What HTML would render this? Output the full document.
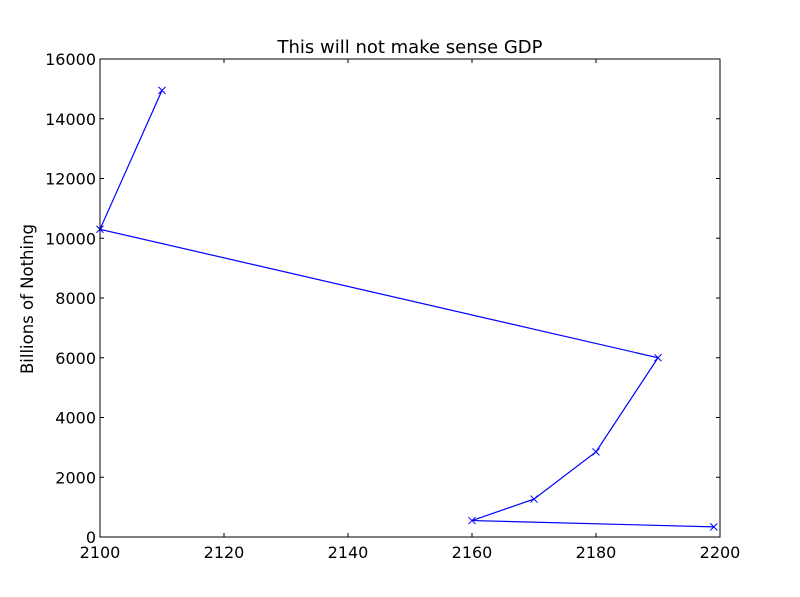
<!DOCTYPE html>
<html><head><meta charset="utf-8"><style>
body{margin:0;background:#fff;}
svg{display:block;font-family:"DejaVu Sans","Liberation Sans",sans-serif;}
</style></head><body>
<svg id="chart" width="800" height="597">
<rect width="800" height="597" fill="#fff"/>
<text x="410" y="53" text-anchor="middle" font-size="18">This will not make sense GDP</text>
<text transform="translate(33,299) rotate(-90)" text-anchor="middle" font-size="16.5">Billions of Nothing</text>
<g id="ticks"></g>
<g id="marks"></g>
<rect x="100" y="59" width="620" height="478" fill="none" stroke="#000" stroke-width="1"/>
</svg>
<script>
const xValues=[2110,2100,2190,2180,2170,2160,2199];
const yValues=[14950,10300,6000,2850,1270,550,340];
const xTicks=[2100,2120,2140,2160,2180,2200];
const yTicks=[0,2000,4000,6000,8000,10000,12000,14000,16000];
const L=100,R=720,T=59,B=537;
function sx(v){return L+(v-2100)/100*(R-L);}
function sy(v){return B-v/16000*(B-T);}
const NS="http://www.w3.org/2000/svg";
const tg=document.getElementById('ticks'),mg=document.getElementById('marks');
function mk(tag,attrs,parent){const e=document.createElementNS(NS,tag);for(const k in attrs)e.setAttribute(k,attrs[k]);parent.appendChild(e);return e;}
xTicks.forEach(v=>{const x=sx(v);
 const a=mk('line',{x1:x,x2:x,y1:B,y2:B-4,stroke:'#000'},tg);
 
 
 const b=mk('line',{x1:x,x2:x,y1:T,y2:T+4,stroke:'#000'},tg);
 
 
 const t=mk('text',{x:x,y:B+21,'text-anchor':'middle','font-size':'16'},tg);t.textContent=v;
 
 
});
yTicks.forEach(v=>{const y=sy(v);
 const a=mk('line',{x1:L,x2:L+4,y1:y,y2:y,stroke:'#000'},tg);
 
 
 const b=mk('line',{x1:R,x2:R-4,y1:y,y2:y,stroke:'#000'},tg);
 
 
 const t=mk('text',{x:L-4,y:y+6,'text-anchor':'end','font-size':'16'},tg);t.textContent=v;
 
 
});
const pts=xValues.map((v,i)=>sx(v)+','+sy(yValues[i])).join(' ');
const line=mk('polyline',{points:pts,fill:'none',stroke:'#0000ff','stroke-width':'1.2'},mg);


xValues.forEach((v,i)=>{const x=sx(v),y=sy(yValues[i]);
 const p=mk('path',{d:`M${x-3.5},${y-3.5}L${x+3.5},${y+3.5}M${x-3.5},${y+3.5}L${x+3.5},${y-3.5}`,stroke:'#0000ff','stroke-width':'1'},mg);
 
 
});
</script>
</body></html>
